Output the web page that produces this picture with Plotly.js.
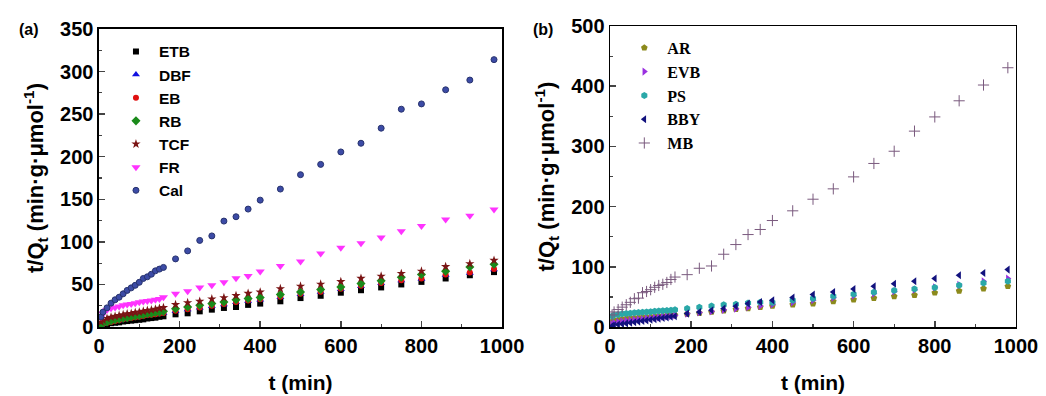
<!DOCTYPE html>
<html><head><meta charset="utf-8">
<script src="https://cdn.plot.ly/plotly-3.0.1.min.js"></script>
<style>html,body{margin:0;padding:0;background:#fff}#chart{width:1046px;height:396px}</style>
</head><body><div id="chart"></div>
<script>
const times = [5,10,20,30,40,50,60,70,80,90,100,110,120,130,140,150,160,190,220,250,280,310,340,370,400,450,500,550,600,650,700,750,800,860,920,980];

// Panel (a)
const ETB = [1.5,2.5,3.5,4.5,5,5.5,6.5,7,7.5,8,8.5,9,10,10.5,11,12,12.6,14.9,16.1,18.4,20.4,22.4,23.5,26,27.5,30.2,34,36.7,40.3,43.2,46.5,50,53,57,60.8,64.5];
const DBF = [2.3,3.3,4.8,5.8,6.8,7.7,8.7,9.6,10.2,11.2,11.7,12.6,13.5,14.1,14.6,15.5,16.1,18.6,20.6,22.5,24.5,26.5,29,30.5,32,35,38.5,41,44.5,48,51.3,54.5,56.5,61.2,63.5,67.5];
const EB = [2.5,3.5,5,6,7,8,9,10,10.5,11.5,12,13,14,14.5,15,16,16.5,19,21,23,25,27,29.5,31,32.5,35.5,39,41.5,45,48.5,51.8,55,57,61.7,64,68];
const RB = [3,4.5,6,7.5,8.5,9.5,10.5,11,12,13,13.5,14.5,15.5,16,17,17.5,18.4,21.6,23.5,25.5,27.5,29.4,32,33.4,34.6,38.1,41.2,44,47,51,54.2,58.5,61.7,65.6,70.4,73.8];
const TCF = [6,8,10,11.5,12.5,13.5,14.5,15.5,16,17,17.5,18.5,19.5,20,21,22,22.8,26.3,28.6,30.2,33,34.5,36.9,39.5,41,45,47.9,50.3,53.4,57.2,59.7,62.8,65.6,71,74.3,78.3];
const FR = [12,16,20,22,23,24,25.5,26.5,27,28,29,30,30.5,31,32,33,35,39.2,42,46.3,49,52.6,57.3,60,65.1,71.8,76.9,86.3,93,98.5,105.2,112.6,118.5,126.4,130.7,138];
const Cal = [12,17.5,22.5,28,32,35,39,43,46,49,52.5,57,59,62,66,68,70,80,89.4,101.7,107,124.4,129.5,138.5,149,162,178.9,191,205.6,215.8,233.5,255.8,262,278.6,290,314];

// Panel (b)
const AR = [9,11,12,13,14,14.5,15,15.5,16,16.5,17,17.5,18,18.5,19,19.5,20,21.5,23,25,27,29.5,31,33,35,37.2,38.9,42.7,45.5,48,51,53,57,60,63.8,67.7];
const EVB = [5,7,8.5,9.5,10.5,11,12,12.5,13,14,14.5,15.5,16,17,17.5,18,19,22,24,26,28.5,30.5,33,35,37.5,41,44.5,48.5,52,55.5,59,62,66,70,76,80.5];
const PS = [18,20,21,22,22.5,23,23.5,24,24.5,25,25.5,26,26.5,27,27.5,28,28.5,30.6,33,35,37,37.7,40,41,40.6,44.4,47.2,51,54.4,57.7,60.5,63,65.5,69.5,73,76];
const BBY = [2,3,4,5,6,7,8,9,10,11,12,13,14,15,16,17,18,22.3,25,27.8,30.6,34.4,38.9,41.6,44.4,48.9,53.9,58.2,63.2,67.7,72,76,80.5,86,89.8,95.4];
const MB = [20,25,29,33,37,41,47,48,57,59,62,66,69,71,74,79,83,87,97.6,101.4,120.9,137,153.6,162,176.9,193,212.3,229.5,249.4,271.7,292,325.4,349,375.8,402,430.7];

const namesA = ['ETB','DBF','EB','RB','TCF','FR','Cal'];
const dataA = [ETB,DBF,EB,RB,TCF,FR,Cal];
const symA = ['square','triangle-up','circle','diamond','star','triangle-down','circle'];
const colA = ['#000000','#1010e0','#e01010','#1a8a1a','#7a1414','#ff33ff','#3c4ba6'];
const sizeA = [6,7,6,7,7,8,6];

const namesB = ['AR','EVB','PS','BBY','MB'];
const dataB = [AR,EVB,PS,BBY,MB];
const symB = ['pentagon','triangle-right','hexagon','triangle-left','cross-thin-open'];
const colB = ['#8c8a1c','#9a30e0','#2aa8a8','#12127e','#7a5a7e'];
const sizeB = [7,7,7,7,8];

const traces = [];
namesA.forEach((n,i)=>{
  traces.push({x:times,y:dataA[i],name:n,type:'scatter',mode:'markers',xaxis:'x',yaxis:'y',legend:'legend',
    marker:{symbol:symA[i],color:colA[i],size:sizeA[i],line:{width:i===6?1:0,color:'#28336e'}}});
});
namesB.forEach((n,i)=>{
  const m = {symbol:symB[i],color:colB[i],size:sizeB[i]};
  if(symB[i]==='cross-thin-open'){m.line={width:1,color:colB[i]};}
  else m.line={width:0};
  traces.push({x:times,y:dataB[i],name:n,type:'scatter',mode:'markers',xaxis:'x2',yaxis:'y2',legend:'legend2',marker:m});
});

const tickF = {family:'Liberation Sans, Arial, sans-serif',size:20,color:'#000',weight:'bold'};
const titleF = {family:'Liberation Sans, Arial, sans-serif',size:21,color:'#000',weight:'bold'};
const ytitleF = {family:'Liberation Sans, Arial, sans-serif',size:22,color:'#000',weight:'bold'};
function xax(dom,anchor){return {domain:dom,anchor:anchor,range:[0,1000],dtick:200,ticks:'inside',ticklen:6,tickwidth:1.5,
  minor:{dtick:100,ticks:'inside',ticklen:3,tickwidth:1.2},showline:true,linewidth:1.5,linecolor:'#000',mirror:true,
  showgrid:false,zeroline:false,tickfont:tickF,title:{text:'t (min)',font:titleF,standoff:20}};}
function yax(dom,anchor,rng,dt){return {domain:dom,anchor:anchor,range:rng,dtick:dt,ticks:'inside',ticklen:6,tickwidth:1.5,
  minor:{dtick:dt/2,ticks:'inside',ticklen:3,tickwidth:1.2},showline:true,linewidth:1.5,linecolor:'#000',mirror:true,
  showgrid:false,zeroline:false,tickfont:tickF,title:{text:'t/Q<sub>t</sub> (min·g·μmol<sup>-1</sup>)',font:ytitleF,standoff:10}};}

const layout = {
  width:1046,height:396,margin:{l:0,r:0,t:0,b:0},paper_bgcolor:'#fff',plot_bgcolor:'#fff',showlegend:true,
  xaxis:xax([0.0946,0.4800],'y'),
  yaxis:yax([0.1742,0.9268],'x',[0,350],50),
  xaxis2:xax([0.5832,0.9713],'y2'),
  yaxis2:yax([0.1742,0.9343],'x2',[0,500],100),
  legend:{x:0.108,y:0.912,xanchor:'left',yanchor:'top',bgcolor:'rgba(0,0,0,0)',itemwidth:36,
    font:{family:'Liberation Sans, Arial, sans-serif',size:15.5,color:'#000',weight:'bold'}},
  legend2:{x:0.594,y:0.922,xanchor:'left',yanchor:'top',bgcolor:'rgba(0,0,0,0)',itemwidth:36,
    font:{family:'Liberation Serif, Times New Roman, serif',size:16,color:'#000',weight:'bold'}},
  annotations:[
    {text:'(a)',xref:'paper',yref:'paper',x:0.016,y:0.925,xanchor:'left',yanchor:'middle',showarrow:false,
      font:{family:'Liberation Sans, Arial, sans-serif',size:16,color:'#000',weight:'bold'}},
    {text:'(b)',xref:'paper',yref:'paper',x:0.508,y:0.925,xanchor:'left',yanchor:'middle',showarrow:false,
      font:{family:'Liberation Sans, Arial, sans-serif',size:16,color:'#000',weight:'bold'}}
  ]
};
Plotly.newPlot('chart',traces,layout,{displayModeBar:false,staticPlot:true});
</script></body></html>
